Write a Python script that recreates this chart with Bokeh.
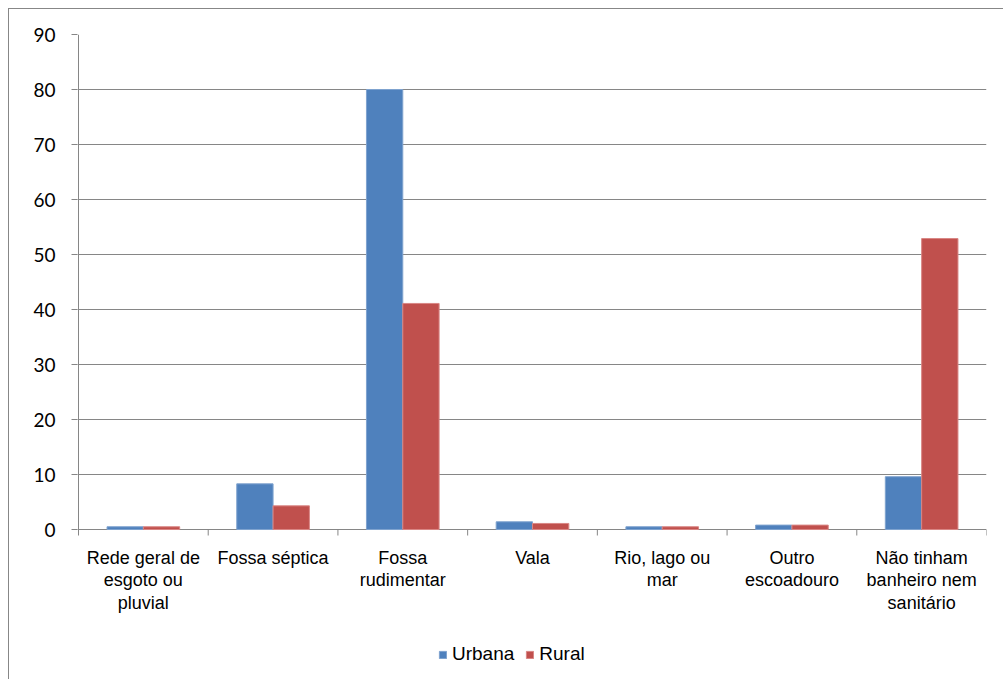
from bokeh.plotting import figure
from bokeh.models import Range1d, FixedTicker, ColumnDataSource, Legend, LegendItem
from bokeh.core.properties import value
from bokeh.embed import file_html
from bokeh.resources import INLINE

# Destino do esgoto sanitário por situação do domicílio (%)
categories = [
    "Rede geral de\nesgoto ou\npluvial",
    "Fossa séptica",
    "Fossa\nrudimentar",
    "Vala",
    "Rio, lago ou\nmar",
    "Outro\nescoadouro",
    "Não tinham\nbanheiro nem\nsanitário",
]
urbana = [0.5, 8.3, 80.0, 1.4, 0.5, 0.8, 9.6]
rural = [0.5, 4.3, 41.1, 1.1, 0.5, 0.8, 52.9]
y_ticks = [0, 10, 20, 30, 40, 50, 60, 70, 80, 90]

GRID = "#868686"
BLUE = "#4F81BD"
RED = "#C0504D"

n = len(categories)
centers = [i + 0.5 for i in range(n)]
bounds = list(range(n + 1))
bar_w = 0.28

# The frame reaches down to the bottom edge so that the category labels
# and the legend can live inside it; 5.5 px per unit on the value axis.
PX_PER_UNIT = 5.5
FRAME_H = 645
FRAME_W = 909
x_pad = 1 / 129.7
y_min = 90 - FRAME_H / PX_PER_UNIT

p = figure(
    frame_width=FRAME_W, frame_height=FRAME_H,
    x_range=Range1d(-x_pad, n), y_range=Range1d(y_min, 90),
    output_backend="svg", toolbar_location=None,
    x_axis_location=None,
    min_border_left=68, min_border_right=18,
    min_border_top=25, min_border_bottom=0,
)
p.styles = {
    "margin-left": "8px", "margin-top": "8px",
    "border-left": "1px solid #878787", "border-top": "1px solid #878787",
}
p.outline_line_color = None
p.background_fill_color = "white"
p.border_fill_color = "white"

# value axis: ticks and labels only, its line is drawn from 0 to 90 below
p.yaxis.ticker = FixedTicker(ticks=y_ticks)
p.yaxis.axis_line_color = None
p.yaxis.major_tick_line_color = GRID
p.yaxis.major_tick_out = 6
p.yaxis.major_tick_in = 0
p.yaxis.minor_tick_line_color = None
p.yaxis.major_label_text_font = "Lato"
p.yaxis.major_label_text_font_size = "19px"
p.yaxis.major_label_text_color = "black"
p.yaxis.major_label_standoff = 16

p.ygrid.ticker = FixedTicker(ticks=y_ticks)
p.ygrid.grid_line_color = GRID
p.ygrid.grid_line_width = 1
p.xgrid.grid_line_color = None

p.segment(x0=[0], y0=[y_ticks[0]], x1=[0], y1=[y_ticks[-1]],
          line_color=GRID, line_width=1)

# category axis tick marks on the boundaries between groups
tick_len = 6 / PX_PER_UNIT
p.segment(x0=bounds, y0=[0] * len(bounds), x1=bounds, y1=[-tick_len] * len(bounds),
          line_color=GRID, line_width=1)

src = ColumnDataSource(dict(
    xu=[c - bar_w / 2 for c in centers],
    xr=[c + bar_w / 2 for c in centers],
    urbana=urbana, rural=rural,
))
r_u = p.vbar(x="xu", top="urbana", width=bar_w, source=src,
             fill_color=BLUE, line_color="#7fa3cf", line_width=1)
r_r = p.vbar(x="xr", top="rural", width=bar_w, source=src,
             fill_color=RED, line_color="#d98684", line_width=1)

# category labels under each group
lab_src = ColumnDataSource(dict(x=centers, text=categories))
p.text(x="x", y=-18 / PX_PER_UNIT, text="text", source=lab_src,
       text_align="center", text_baseline="top",
       text_font=value("Liberation Sans"), text_font_size="18px",
       text_line_height=1.13, text_color="black")

legend = Legend(
    items=[LegendItem(label="Urbana", renderers=[r_u]),
           LegendItem(label="Rural", renderers=[r_r])],
    orientation="horizontal", location=(361, 14),
    glyph_width=9, glyph_height=9, label_standoff=5, spacing=11,
    label_text_font="Liberation Sans", label_text_font_size="19px",
    label_text_color="black",
    border_line_color=None, background_fill_alpha=0, margin=0, padding=10,
)
p.add_layout(legend, "center")

open("out.html", "w").write(file_html(p, INLINE))
